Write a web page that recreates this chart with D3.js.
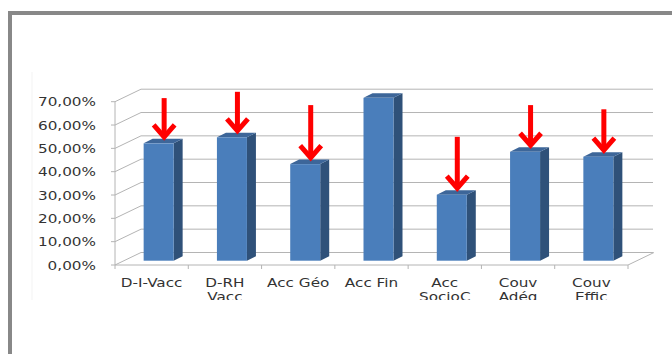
<!DOCTYPE html>
<html>
<head>
<meta charset="utf-8">
<script src="https://cdn.jsdelivr.net/npm/d3@7"></script>
<style>
  body { margin: 0; background: #fff; }
  svg { display: block; }
</style>
</head>
<body>
<div id="chart"></div>
<script>
// données
const categories = ["D-I-Vacc", "D-RH Vacc", "Acc Géo", "Acc Fin", "Acc SocioC", "Couv Adéq", "Couv Effic"];
const categoryLines = [["D-I-Vacc"], ["D-RH", "Vacc"], ["Acc Géo"], ["Acc Fin"], ["Acc", "SocioC"], ["Couv", "Adéq"], ["Couv", "Effic"]];
const values = [50.3, 52.9, 41.4, 69.8, 28.3, 46.7, 44.6];
// départ des flèches rouges (en % sur l'échelle des barres), null = pas de flèche
const arrowFrom = [69.7, 72.4, 66.7, null, 53.1, 66.7, 64.9];
const yTicks = [0, 10, 20, 30, 40, 50, 60, 70];

const W = 672, H = 354;
const DEPTH = { dx: 26, dy: -12.5 };     // profondeur du plancher
const BAR_OFF = { dx: 7, dy: -4.3 };     // position des barres dans la profondeur
const BAR_DEPTH = { dx: 9, dy: -4.5 };   // épaisseur des barres
const BAR_W = 30;
const FONT = "'DejaVu Sans', Verdana, sans-serif";
const STRETCH = 1.27;

const svg = d3.select("#chart").append("svg")
  .attr("width", W)
  .attr("height", H);

// cadre gris
svg.append("path")
  .attr("d", "M10," + H + " V13 H" + W)
  .attr("fill", "none")
  .attr("stroke", "#888")
  .attr("stroke-width", 4);

// bord léger de la zone de traçage
svg.append("line")
  .attr("x1", 32).attr("x2", 32)
  .attr("y1", 72).attr("y2", 300)
  .attr("stroke", "#f3f3f3");

const x = d3.scaleBand()
  .domain(categories)
  .range([115, 628]);

const y = d3.scaleLinear()
  .domain([0, 70])
  .range([265, 101.7]);

const grid = svg.append("g")
  .attr("fill", "none")
  .attr("stroke", "#b4b4b4")
  .attr("stroke-width", 1);

const x0 = x.range()[0], x1 = x.range()[1];

// quadrillage : mur gauche + mur du fond
yTicks.forEach(t => {
  grid.append("path")
    .attr("d", "M" + x0 + "," + y(t) + " L" + (x0 + DEPTH.dx) + "," + (y(t) + DEPTH.dy) + " H653");
  grid.append("line")
    .attr("x1", x0 - 4).attr("x2", x0)
    .attr("y1", y(t)).attr("y2", y(t));
});

// axe vertical avant
grid.append("line")
  .attr("x1", x0).attr("x2", x0)
  .attr("y1", y(0)).attr("y2", y(70));

// plancher
grid.append("path")
  .attr("d", "M" + x0 + "," + y(0) + " H" + x1 + " l" + DEPTH.dx + "," + DEPTH.dy);

// graduations des catégories
categories.concat([null]).forEach((c, i) => {
  const xx = c ? x(c) : x1;
  grid.append("line")
    .attr("x1", xx).attr("x2", xx)
    .attr("y1", y(0)).attr("y2", y(0) + 4);
});

// étiquettes de l'axe Y
const fmt = d3.format(".2f");
svg.append("g")
  .selectAll("text")
  .data(yTicks)
  .join("text")
  .attr("transform", d => "translate(96," + (y(d) + 4.5) + ") scale(" + STRETCH + ",1)")
  .attr("text-anchor", "end")
  .style("font-family", FONT)
  .style("font-size", "12px")
  .style("fill", "#333")
  .text(d => fmt(d).replace(".", ",") + "%");

// étiquettes des catégories, coupées en bas de la zone
svg.append("clipPath").attr("id", "clipLabels")
  .append("rect").attr("x", 0).attr("y", 0).attr("width", W).attr("height", 300);

const labels = svg.append("g")
  .attr("clip-path", "url(#clipLabels)")
  .selectAll("g")
  .data(categories)
  .join("g")
  .attr("transform", d => "translate(" + (x(d) + x.bandwidth() / 2) + ",286.5) scale(" + STRETCH + ",1)");

labels.each(function(d, i) {
  d3.select(this).selectAll("text")
    .data(categoryLines[i])
    .join("text")
    .attr("y", (l, j) => j * 15)
    .attr("text-anchor", "middle")
    .style("font-family", FONT)
    .style("font-size", "12px")
    .style("fill", "#333")
    .text(l => l);
});

// barres 3D
const bars = svg.append("g")
  .selectAll("g")
  .data(values)
  .join("g");

bars.each(function(v, i) {
  const g = d3.select(this);
  const left = x(categories[i]) + (x.bandwidth() - BAR_W) / 2 + BAR_OFF.dx;
  const right = left + BAR_W;
  const top = y(v) + BAR_OFF.dy;
  const bottom = y(0) + BAR_OFF.dy;

  g.append("path")   // côté
    .attr("d", "M" + right + "," + bottom + " V" + top +
      " l" + BAR_DEPTH.dx + "," + BAR_DEPTH.dy +
      " V" + (bottom + BAR_DEPTH.dy) + " Z")
    .attr("fill", "#2f5179");
  g.append("path")   // dessus
    .attr("d", "M" + left + "," + top + " H" + right +
      " l" + BAR_DEPTH.dx + "," + BAR_DEPTH.dy +
      " H" + (left + BAR_DEPTH.dx) + " Z")
    .attr("fill", "#3d6699");
  g.append("rect")   // face
    .attr("x", left)
    .attr("y", top)
    .attr("width", BAR_W)
    .attr("height", bottom - top)
    .attr("fill", "#4a7ebb");
});

// flèches rouges
const arrows = svg.append("g")
  .attr("fill", "none")
  .attr("stroke", "#ff0000")
  .attr("stroke-width", 5)
  .selectAll("g")
  .data(arrowFrom.map((a, i) => ({ from: a, value: values[i], cat: categories[i] })).filter(d => d.from !== null))
  .join("g");

arrows.each(function(d) {
  const cx = x(d.cat) + x.bandwidth() / 2 + BAR_OFF.dx + BAR_DEPTH.dx / 2 + 1;
  const tip = y(d.value) + BAR_OFF.dy - 6.5;
  const start = y(d.from) + BAR_OFF.dy;
  const g = d3.select(this);
  g.append("line")
    .attr("x1", cx).attr("x2", cx)
    .attr("y1", start).attr("y2", tip - 2);
  g.append("path")
    .attr("d", "M" + (cx - 10.5) + "," + (tip - 12) + " L" + cx + "," + tip + " L" + (cx + 10.5) + "," + (tip - 12))
    .attr("stroke-linejoin", "miter")
    .attr("stroke-miterlimit", 10);
});
</script>
</body>
</html>
